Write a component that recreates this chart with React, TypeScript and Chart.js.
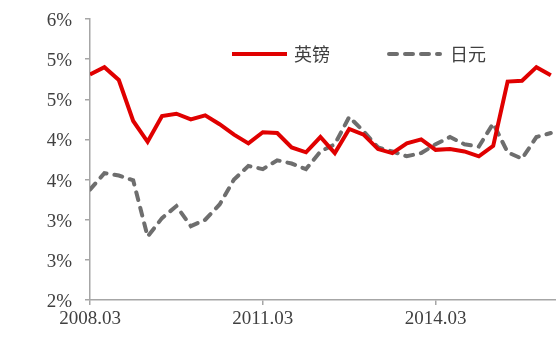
import { useEffect, useRef } from "react";
import { Chart, registerables } from "chart.js";
Chart.register(...registerables);

const categories = [
  "2008.03", "2008.06", "2008.09", "2008.12",
  "2009.03", "2009.06", "2009.09", "2009.12",
  "2010.03", "2010.06", "2010.09", "2010.12",
  "2011.03", "2011.06", "2011.09", "2011.12",
  "2012.03", "2012.06", "2012.09", "2012.12",
  "2013.03", "2013.06", "2013.09", "2013.12",
  "2014.03", "2014.06", "2014.09", "2014.12",
  "2015.03", "2015.06", "2015.09", "2015.12",
  "2016.03",
];
const gbp = [
  4.81, 4.9, 4.74, 4.23, 3.97, 4.29, 4.32, 4.25, 4.3, 4.19, 4.06, 3.95,
  4.09, 4.08, 3.9, 3.84, 4.03, 3.83, 4.13, 4.06, 3.88, 3.83, 3.95, 4.0,
  3.87, 3.88, 3.85, 3.79, 3.92, 4.72, 4.73, 4.9, 4.8,
];
const jpy = [
  3.375, 3.58, 3.55, 3.49, 2.79, 3.02, 3.17, 2.92, 3.0, 3.19, 3.5, 3.67,
  3.63, 3.74, 3.7, 3.63, 3.85, 3.94, 4.28, 4.1, 3.9, 3.85, 3.79, 3.83,
  3.94, 4.03, 3.94, 3.91, 4.2, 3.84, 3.76, 4.03, 4.08,
];
const seriesNames = ["英镑", "日元"];
const xTickIndices = [0, 12, 24];

const RED = "#e00000";
const GRAY = "#6e6e6e";
const AXIS = "#a6a6a6";
const TEXT = "#404040";

export default function App() {
  const ref = useRef<HTMLCanvasElement>(null);
  useEffect(() => {
    const legendPlugin = {
      id: "inlineLegend",
      afterDatasetsDraw(chart: any) {
        const ctx = chart.ctx;
        const a = chart.chartArea;
        const y = a.top + 35;
        ctx.save();
        ctx.lineWidth = 4;
        ctx.strokeStyle = RED;
        ctx.setLineDash([]);
        ctx.lineCap = "butt";
        ctx.beginPath();
        ctx.moveTo(a.left + 142, y);
        ctx.lineTo(a.left + 197, y);
        ctx.stroke();
        ctx.strokeStyle = GRAY;
        ctx.lineCap = "round";
        ctx.setLineDash([8, 8]);
        ctx.beginPath();
        ctx.moveTo(a.left + 299, y);
        ctx.lineTo(a.left + 350, y);
        ctx.stroke();
        ctx.setLineDash([]);
        ctx.fillStyle = TEXT;
        ctx.font = '18px "Noto Sans CJK SC"';
        ctx.textBaseline = "middle";
        ctx.textAlign = "left";
        ctx.fillText(seriesNames[0], a.left + 204, y);
        ctx.fillText(seriesNames[1][0], a.left + 360, y);
        ctx.fillText(seriesNames[1][1], a.left + 378, y);
        ctx.restore();
      },
    };
    const font = { family: '"Liberation Serif", "Times New Roman", serif', size: 19 };
    const chart = new Chart(ref.current as HTMLCanvasElement, {
      type: "line",
      data: {
        datasets: [
          {
            label: seriesNames[0],
            data: gbp.map((v, i) => ({ x: i, y: v })),
            borderColor: RED,
            backgroundColor: RED,
            borderWidth: 4,
            pointRadius: 0,
            tension: 0,
            fill: false,
          },
          {
            label: seriesNames[1],
            data: jpy.map((v, i) => ({ x: i, y: v })),
            borderColor: GRAY,
            backgroundColor: GRAY,
            borderWidth: 4,
            borderDash: [8, 8],
            borderCapStyle: "round",
            pointRadius: 0,
            tension: 0,
            fill: false,
          },
        ],
      },
      options: {
        animation: false,
        responsive: false,
        layout: { padding: { top: 19, right: 0, left: 0, bottom: 0 } },
        plugins: { legend: { display: false }, tooltip: { enabled: false } },
        scales: {
          x: {
            type: "linear",
            min: 0,
            max: 32.36,
            afterBuildTicks: (s: any) => {
              s.ticks = xTickIndices.map((v) => ({ value: v }));
            },
            afterFit: (s: any) => {
              s.height = 50;
              s.paddingLeft = 0;
              s.paddingRight = 0;
            },
            ticks: {
              callback: (v: any) => categories[v as number],
              font,
              color: TEXT,
              padding: 3,
              maxRotation: 0,
              autoSkip: false,
            },
            grid: { drawOnChartArea: false, tickLength: 5, color: AXIS, lineWidth: 1.5 },
            border: { color: AXIS, width: 1.5 },
          },
          y: {
            min: 2,
            max: 5.5,
            afterFit: (s: any) => {
              s.width = 90;
              s.paddingTop = 0;
              s.paddingBottom = 0;
            },
            ticks: {
              stepSize: 0.5,
              callback: (v: any) => Math.round(Number(v)) + "%",
              font,
              color: TEXT,
              padding: 13,
              labelOffset: 2,
            },
            grid: { drawOnChartArea: false, tickLength: 5, color: AXIS, lineWidth: 1.5 },
            border: { color: AXIS, width: 1.5 },
          },
        },
      },
      plugins: [legendPlugin],
    } as any);
    return () => chart.destroy();
  }, []);
  return (
    <div style={{ position: "fixed", left: 0, top: 0, width: 556, height: 350, background: "#fff" }}>
      <canvas ref={ref} width={556} height={350} style={{ width: 556, height: 350, display: "block" }} />
    </div>
  );
}
